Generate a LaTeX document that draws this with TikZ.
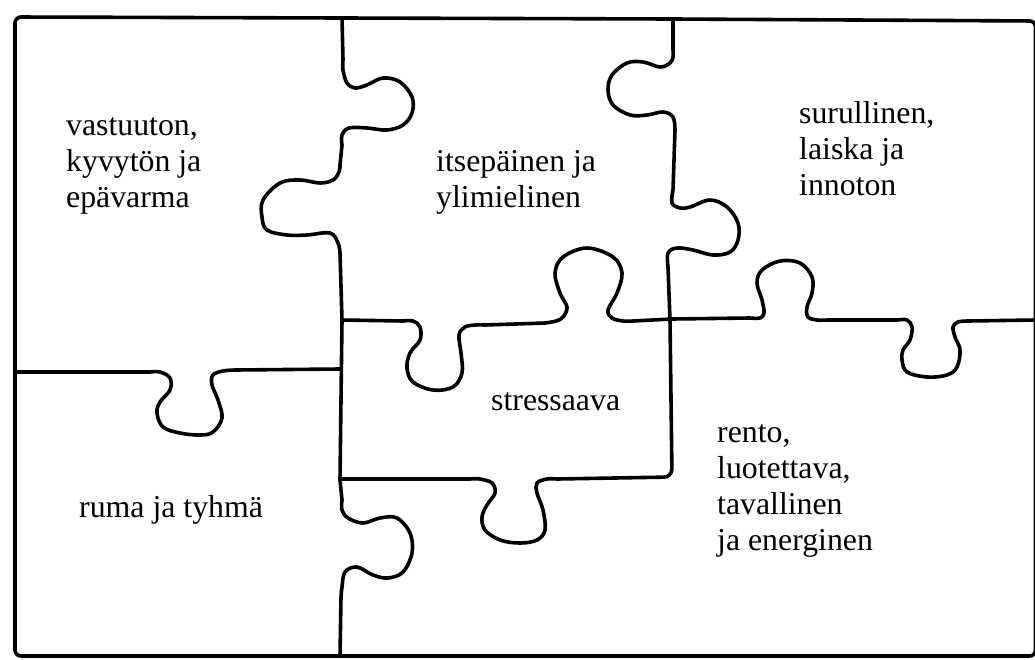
\documentclass[tikz,border=0pt]{standalone}
\usepackage{fontspec}
\setmainfont{Liberation Serif}
\begin{document}
\begin{tikzpicture}[x=1pt,y=-1pt,
  cut/.style={line width=3.6pt,line cap=round,line join=round,draw=black},
  tabcurve/.style={smooth,tension=0.6},
  lbl/.style={inner sep=0pt,align=left,text=black,
    font=\fontsize{31.8}{36}\selectfont}]
\useasboundingbox (0,0) rectangle (1035,659);
% outer frame
\draw[cut,rounded corners=6pt] (15,17) -- (342,18) -- (673,19) -- (1035.5,21) -- (1035.5,656) -- (15,656) -- cycle;
% vertical line 1
\draw[cut] (342,18) -- (343,60)
  -- plot[tabcurve] coordinates {(343,60)(343,70)(347,83)(355,88)(367,85)(383,78)(400,82)(412,97)(412,113)(403,125)(387,130)(367,128)(349,128)(342,135)(342,145)}
  -- (340,165)
  -- plot[tabcurve] coordinates {(340,165)(339,172)(333,180)(320,183)(300,180)(280,183)(263,200)(262,217)(267,230)(287,235)(307,235)(330,233)(338,243)(340,253)}
  -- (342,320) -- (340,480) -- (342,500)
  -- plot[tabcurve] coordinates {(342,500)(342,510)(348,518)(363,523)(380,518)(397,518)(410,533)(412,553)(403,572)(388,578)(373,575)(357,567)(345,572)(342,587)(341,597)}
  -- (340,656);
% vertical line 2
\draw[cut] (673,19) -- (673,50)
  -- plot[tabcurve] coordinates {(673,50)(673,57)(670,63)(660,67)(643,62)(627,63)(612,75)(608,90)(613,105)(630,115)(647,115)(663,112)(673,117)(675,130)}
  -- (673,190)
  -- plot[tabcurve] coordinates {(673,190)(672,203)(680,208)(690,207)(710,200)(727,207)(738,223)(738,240)(730,252)(713,255)(693,250)(677,248)(668,253)(668,267)}
  -- (670,320);
\draw[cut,rounded corners=8pt] (670,320) -- (672,477) -- (557,479);
% left horizontal line
\draw[cut] (15,372) -- (150,372)
  -- plot[tabcurve] coordinates {(150,372)(160,372)(170,378)(170,390)(160,402)(157,413)(163,427)(180,433)(200,435)(213,432)(222,418)(218,400)(212,385)(213,375)(223,371)(235,370)}
  -- (340,369);
% middle horizontal line
\draw[cut] (342,320) -- (403,321)
  -- plot[tabcurve] coordinates {(403,321)(413,321)(420,327)(420,340)(410,353)(407,368)(413,382)(433,390)(453,387)(462,373)(461,353)(459,335)(465,327)(475,325)(485,325)}
  -- (545,323)
  -- plot[tabcurve] coordinates {(545,323)(556,321)(563,317)(567,307)(560,293)(555,273)(563,257)(587,248)(613,257)(622,273)(617,293)(608,310)(612,318)(623,321)(633,321)}
  -- (672,319) -- (750,318)
  -- plot[tabcurve] coordinates {(750,318)(760,318)(764,313)(762,300)(757,283)(762,270)(780,261)(800,263)(812,277)(812,293)(807,307)(808,317)(817,320)(827,320)}
  -- (897,320)
  -- plot[tabcurve] coordinates {(897,320)(907,320)(912,327)(910,340)(903,350)(902,360)(907,372)(927,377)(947,375)(957,367)(960,350)(955,337)(953,327)(958,322)(968,321)}
  -- (1035.5,320);
% bottom of stressaava piece
\draw[cut] (340,479) -- (470,479)
  -- plot[tabcurve] coordinates {(470,479)(480,479)(492,483)(495,493)(487,505)(482,517)(485,530)(500,540)(520,543)(537,540)(545,530)(543,510)(537,493)(537,483)(547,479)(557,479)};
% texts
\node[lbl,anchor=north west] (tA) at (66,110) {\strut vastuuton,\\kyvytön ja\\epävarma};
\node[lbl,anchor=north west] (tB) at (436,146) {\strut itsepäinen ja\\ylimielinen};
\node[lbl,anchor=north west] (tC) at (799,98) {\strut surullinen,\\laiska ja\\innoton};
\node[lbl,anchor=base west] (tD) at (491,410) {stressaava};
\node[lbl,anchor=north west] (tE) at (717,417) {\strut rento,\\luotettava,\\tavallinen\\ja energinen};
\node[lbl,anchor=base west] (tF) at (79,517) {ruma ja tyhmä};
\end{tikzpicture}
\end{document}
